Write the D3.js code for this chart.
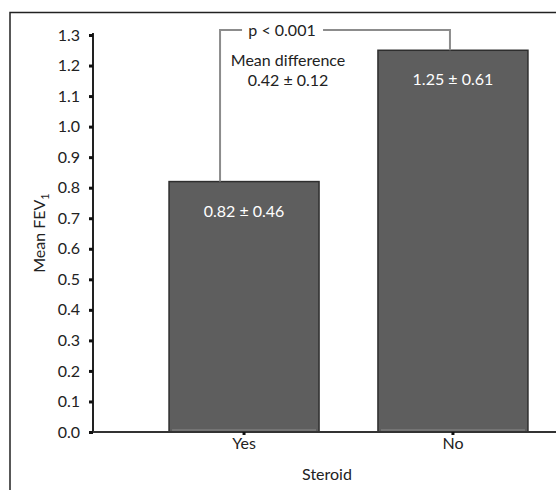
<!DOCTYPE html>
<html>
<head>
<meta charset="utf-8">
<script src="https://cdn.jsdelivr.net/npm/d3@7"></script>
<style>
  body { margin: 0; background: #fff; }
  text { font-family: Lato, "Open Sans", sans-serif; fill: #222; }
</style>
</head>
<body>
<script>
// données
const categories = ['Yes', 'No'];
const means = [0.82, 1.25];
const barLabels = ['0.82 ± 0.46', '1.25 ± 0.61'];
const yTicks = [0, 0.1, 0.2, 0.3, 0.4, 0.5, 0.6, 0.7, 0.8, 0.9, 1.0, 1.1, 1.2, 1.3];
const pText = 'p < 0.001';
const diffText = ['Mean difference', '0.42 ± 0.12'];

const W = 556, H = 490;
const svg = d3.select('body').append('svg')
    .attr('width', W)
    .attr('height', H);

// cadre extérieur (coupé à droite et en bas)
svg.append('path')
    .attr('d', `M10,${H + 2} V12.5 H${W + 2}`)
    .attr('fill', 'none')
    .attr('stroke', '#222')
    .attr('stroke-width', 1.5);

const x0 = 93, yBase = 432;

const y = d3.scaleLinear()
    .domain([0, 1.3])
    .range([yBase, 35]);

const x = d3.scaleBand()
    .domain(categories)
    .range([x0, 604])
    .paddingInner(0.282)
    .paddingOuter(0.364);

// barres
svg.append('g')
    .selectAll('rect')
    .data(means)
    .join('rect')
    .attr('x', (d, i) => x(categories[i]))
    .attr('y', d => y(d))
    .attr('width', x.bandwidth())
    .attr('height', d => yBase - y(d))
    .attr('fill', '#5e5e5e')
    .attr('stroke', '#2e2e2e')
    .attr('stroke-width', 1.5);

// petit liseré clair en bas des barres
svg.append('g')
    .selectAll('line')
    .data(means)
    .join('line')
    .attr('x1', (d, i) => x(categories[i]) + 3)
    .attr('x2', (d, i) => x(categories[i]) + x.bandwidth() - 3)
    .attr('y1', yBase - 2)
    .attr('y2', yBase - 2)
    .attr('stroke', '#8a8a8a')
    .attr('stroke-width', 1);

// valeurs dans les barres
svg.append('g')
    .selectAll('text')
    .data(barLabels)
    .join('text')
    .attr('x', (d, i) => x(categories[i]) + x.bandwidth() / 2)
    .attr('y', (d, i) => y(means[i]) + 35)
    .attr('text-anchor', 'middle')
    .style('font-size', '16px')
    .style('fill', '#fff')
    .text(d => d);

// axe Y
const yAxis = svg.append('g')
    .attr('transform', `translate(${x0}, 0)`)
    .call(d3.axisLeft(y).tickValues(yTicks).tickFormat(d3.format('.1f')).tickSize(4).tickPadding(9));
yAxis.select('.domain').attr('d', `M0,${y(1.3) - 2}V${yBase}`).attr('stroke', '#222').attr('stroke-width', 2);
yAxis.selectAll('.tick line').attr('stroke', '#111').attr('stroke-width', 3);
yAxis.selectAll('.tick text')
    .style('font-size', '16px')
    .attr('fill', '#222');

// axe X
const xAxis = svg.append('g')
    .attr('transform', `translate(0, ${yBase})`)
    .call(d3.axisBottom(x).tickSize(3).tickPadding(3));
xAxis.select('.domain').attr('d', `M${x0},0H${W}`).attr('stroke', '#333').attr('stroke-width', 2);
xAxis.selectAll('.tick line').attr('stroke', '#111').attr('stroke-width', 3);
xAxis.selectAll('.tick text')
    .style('font-size', '16px')
    .attr('fill', '#222');

// titres des axes
svg.append('text')
    .attr('x', 327)
    .attr('y', 480)
    .attr('text-anchor', 'middle')
    .style('font-size', '16px')
    .text('Steroid');

const yTitle = svg.append('text')
    .attr('transform', 'translate(45, 233) rotate(-90)')
    .attr('text-anchor', 'middle')
    .style('font-size', '16px');
yTitle.append('tspan').text('Mean FEV');
yTitle.append('tspan').attr('dy', 4).style('font-size', '11px').text('1');

// crochet de significativité
const cx = categories.map(c => x(c) + x.bandwidth() / 2);
const bx1 = cx[0] - 24, bx2 = cx[1] - 3, by = 30;
const bracket = svg.append('g')
    .attr('fill', 'none')
    .attr('stroke', '#8c8c8c')
    .attr('stroke-width', 2);
bracket.append('path')
    .attr('d', `M${bx1},${y(means[0])} V${by} H${bx1 + 22}`);
bracket.append('path')
    .attr('d', `M${bx1 + 103},${by} H${bx2} V${y(means[1])}`);

svg.append('text')
    .attr('x', bx1 + 62)
    .attr('y', by + 6)
    .attr('text-anchor', 'middle')
    .style('font-size', '16px')
    .text(pText);

svg.append('g')
    .selectAll('text')
    .data(diffText)
    .join('text')
    .attr('x', bx1 + 68)
    .attr('y', (d, i) => 66 + i * 20)
    .attr('text-anchor', 'middle')
    .style('font-size', '16px')
    .text(d => d);
</script>
</body>
</html>
